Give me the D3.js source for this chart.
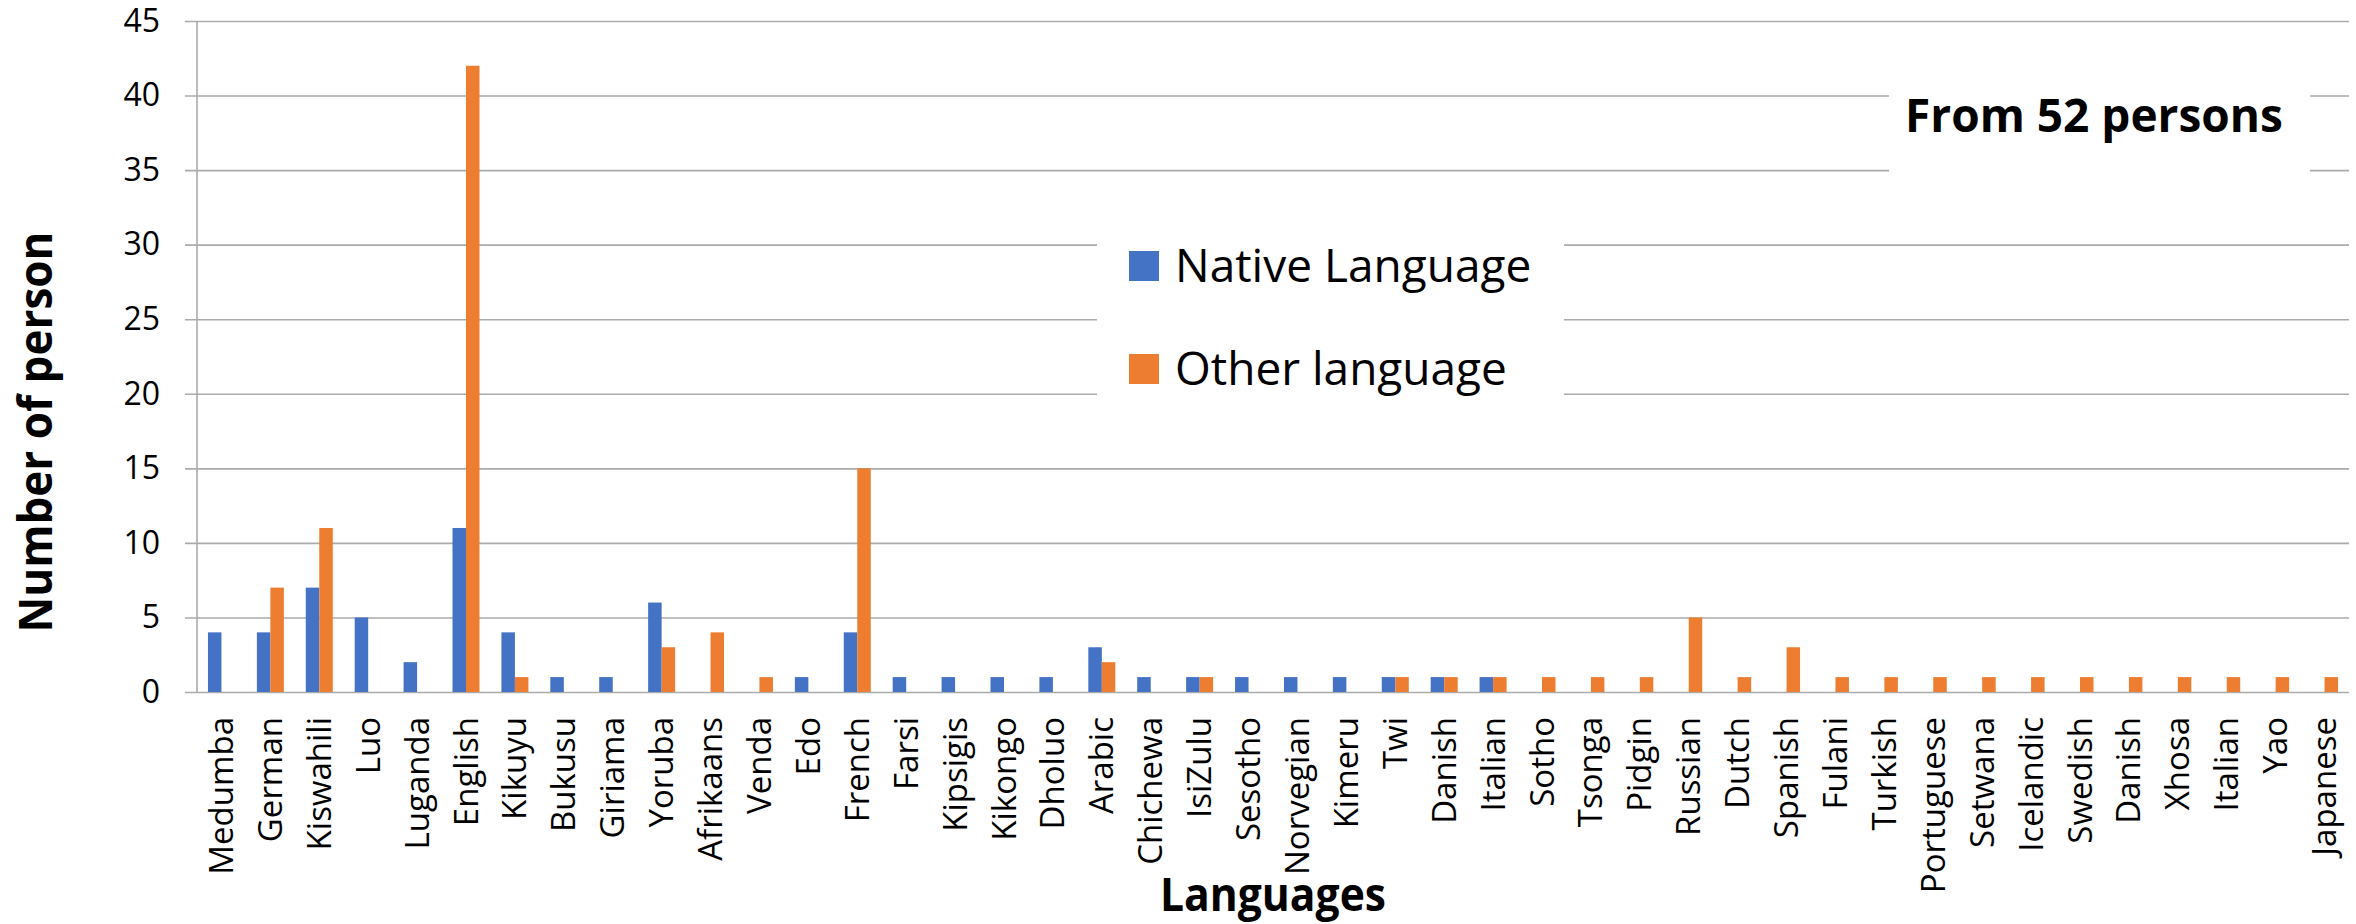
<!DOCTYPE html>
<html>
<head>
<meta charset="utf-8">
<script src="https://cdn.jsdelivr.net/npm/d3@7"></script>
<style>
  body { margin: 0; background: #fff; }
  svg { display: block; font-family: "Open Sans", sans-serif; }
</style>
</head>
<body>
<div class="chart"></div>
<script>
// data
var languages = ["Medumba", "German", "Kiswahili", "Luo", "Luganda", "English", "Kikuyu", "Bukusu",
  "Giriama", "Yoruba", "Afrikaans", "Venda", "Edo", "French", "Farsi", "Kipsigis", "Kikongo",
  "Dholuo", "Arabic", "Chichewa", "IsiZulu", "Sesotho", "Norvegian", "Kimeru", "Twi", "Danish",
  "Italian", "Sotho", "Tsonga", "Pidgin", "Russian", "Dutch", "Spanish", "Fulani", "Turkish",
  "Portuguese", "Setwana", "Icelandic", "Swedish", "Danish", "Xhosa", "Italian", "Yao", "Japanese"];

var nativeCounts = [4, 4, 7, 5, 2, 11, 4, 1, 1, 6, 0, 0, 1, 4, 1, 1, 1, 1, 3, 1, 1, 1, 1, 1, 1, 1,
  1, 0, 0, 0, 0, 0, 0, 0, 0, 0, 0, 0, 0, 0, 0, 0, 0, 0];
var otherCounts = [0, 7, 11, 0, 0, 42, 1, 0, 0, 3, 4, 1, 0, 15, 0, 0, 0, 0, 2, 0, 1, 0, 0, 0, 1, 1,
  1, 1, 1, 1, 5, 1, 3, 1, 1, 1, 1, 1, 1, 1, 1, 1, 1, 1];

var seriesNames = ["Native Language", "Other language"];
var seriesColors = ["#4472C4", "#ED7D31"];
var yTicks = [0, 5, 10, 15, 20, 25, 30, 35, 40, 45];
var noteText = "From 52 persons";

//////// chart area ////////
var svgWidth = 2356;
var svgHeight = 924;

var margin = { top: 21, right: 7, bottom: 232, left: 197 };
var width = svgWidth - margin.left - margin.right;
var height = svgHeight - margin.top - margin.bottom;

var svg = d3.select(".chart")
  .append("svg")
  .attr("width", svgWidth)
  .attr("height", svgHeight);

var chartGroup = svg.append("g")
  .attr("transform", `translate(${margin.left}, ${margin.top})`);

// scales
var x0 = d3.scaleBand()
  .domain(d3.range(languages.length))
  .range([0, width])
  .padding(0);

var barW = x0.bandwidth() * 0.276;
var x1 = d3.scaleBand()
  .domain([0, 1])
  .range([x0.bandwidth() / 2 - barW, x0.bandwidth() / 2 + barW]);

var y = d3.scaleLinear()
  .domain([0, 45])
  .range([height, 0]);

var gridColor = "#ababab";

// gridlines (with small outward stubs like the original)
var leftAxis = d3.axisLeft(y)
  .tickValues(yTicks)
  .tickSize(-width)
  .tickFormat("");

var gridG = chartGroup.append("g").call(leftAxis);
gridG.select(".domain").remove();
gridG.selectAll(".tick line")
  .attr("x1", -12)
  .attr("stroke", gridColor)
  .attr("stroke-width", 1.6);

// vertical axis line
chartGroup.append("line")
  .attr("x1", 0).attr("x2", 0)
  .attr("y1", 0).attr("y2", height)
  .attr("stroke", gridColor)
  .attr("stroke-width", 1.6);

// y tick labels
var yLabels = chartGroup.append("g").call(d3.axisLeft(y).tickValues(yTicks).tickSize(0).tickPadding(37));
yLabels.select(".domain").remove();
yLabels.selectAll("text")
  .style("font-family", "'Open Sans', sans-serif")
  .style("font-size", "32px")
  .attr("fill", "#000");

// x axis labels
var xAxis = d3.axisBottom(x0)
  .tickSize(0)
  .tickFormat(i => languages[i]);

var xG = chartGroup.append("g")
  .attr("transform", `translate(0, ${height})`)
  .call(xAxis);
xG.select(".domain").remove();
xG.selectAll("text")
  .attr("transform", "rotate(-90)")
  .attr("x", -25)
  .attr("y", 0)
  .attr("dy", "0.35em")
  .style("text-anchor", "end")
  .style("font-family", "'Open Sans', sans-serif")
  .style("font-size", "33px")
  .attr("fill", "#000");

// bars
var seriesData = [nativeCounts, otherCounts];
var groups = chartGroup.selectAll(".lang")
  .data(d3.range(languages.length))
  .enter()
  .append("g")
  .attr("transform", i => `translate(${x0(i)}, 0)`);

groups.selectAll("rect")
  .data(i => seriesData.map((s, k) => ({ k: k, v: s[i] })).filter(d => d.v > 0))
  .enter()
  .append("rect")
  .attr("x", d => x1(d.k))
  .attr("width", x1.bandwidth())
  .attr("y", d => y(d.v))
  .attr("height", d => height - y(d.v))
  .attr("fill", d => seriesColors[d.k]);

// legend (white box breaks the gridlines)
var legend = svg.append("g");
legend.append("rect")
  .attr("x", 1097).attr("y", 208)
  .attr("width", 467).attr("height", 218)
  .attr("fill", "#fff");

var legendItems = legend.selectAll(".item")
  .data(seriesNames)
  .enter()
  .append("g")
  .attr("transform", (d, i) => `translate(1129, ${251 + i * 103})`);

legendItems.append("rect")
  .attr("width", 30).attr("height", 30)
  .attr("fill", (d, i) => seriesColors[i]);

legendItems.append("text")
  .attr("x", 46)
  .attr("y", 31)
  .style("font-family", "'Open Sans', sans-serif")
  .style("font-size", "46px")
  .text(d => d);

// note box
svg.append("rect")
  .attr("x", 1889).attr("y", 40)
  .attr("width", 421).attr("height", 160)
  .attr("fill", "#fff");

svg.append("text")
  .attr("x", 2094)
  .attr("y", 132)
  .style("text-anchor", "middle")
  .style("font-family", "'Open Sans', sans-serif")
  .style("font-weight", "bold")
  .style("font-size", "46px")
  .text(noteText);

// axis titles
svg.append("text")
  .attr("transform", "translate(52, 432) rotate(-90)")
  .style("text-anchor", "middle")
  .style("font-family", "'Open Sans', sans-serif")
  .style("font-weight", "bold")
  .style("font-size", "47px")
  .attr("textLength", 401)
  .attr("lengthAdjust", "spacingAndGlyphs")
  .text("Number of person");

svg.append("text")
  .attr("x", margin.left + width / 2)
  .attr("y", 911)
  .style("text-anchor", "middle")
  .style("font-family", "'Open Sans', sans-serif")
  .style("font-weight", "bold")
  .style("font-size", "46px")
  .attr("textLength", 226)
  .attr("lengthAdjust", "spacingAndGlyphs")
  .text("Languages");
</script>
</body>
</html>
